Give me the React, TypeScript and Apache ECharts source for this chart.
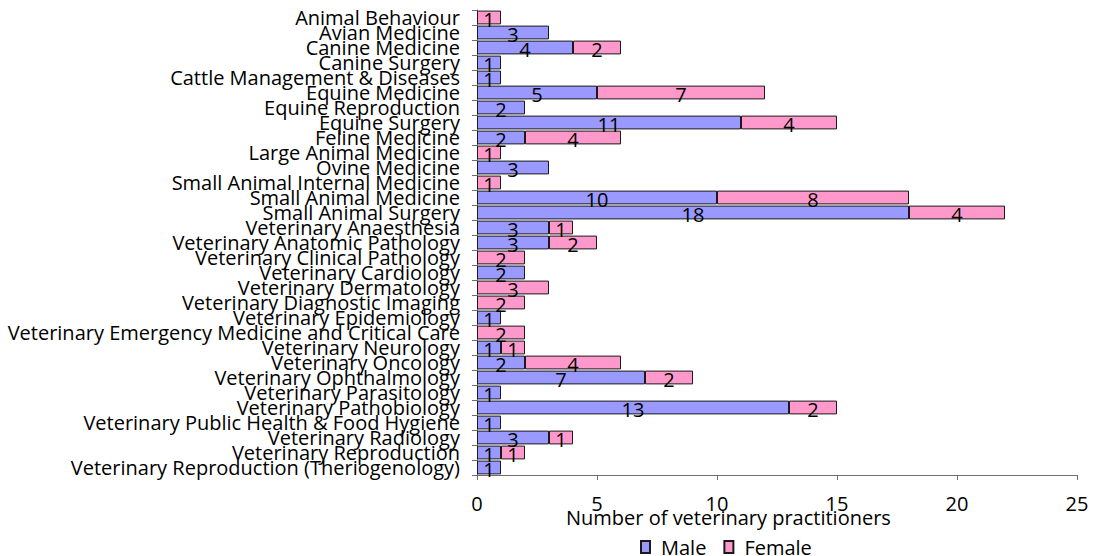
import React, { useEffect, useRef } from "react";
import * as echarts from "echarts";

const categories = [
  "Animal Behaviour",
  "Avian Medicine",
  "Canine Medicine",
  "Canine Surgery",
  "Cattle Management & Diseases",
  "Equine Medicine",
  "Equine Reproduction",
  "Equine Surgery",
  "Feline Medicine",
  "Large Animal Medicine",
  "Ovine Medicine",
  "Small Animal Internal Medicine",
  "Small Animal Medicine",
  "Small Animal Surgery",
  "Veterinary Anaesthesia",
  "Veterinary Anatomic Pathology",
  "Veterinary Clinical Pathology",
  "Veterinary Cardiology",
  "Veterinary Dermatology",
  "Veterinary Diagnostic Imaging",
  "Veterinary Epidemiology",
  "Veterinary Emergency Medicine and Critical Care",
  "Veterinary Neurology",
  "Veterinary Oncology",
  "Veterinary Ophthalmology",
  "Veterinary Parasitology",
  "Veterinary Pathobiology",
  "Veterinary Public Health & Food Hygiene",
  "Veterinary Radiology",
  "Veterinary Reproduction",
  "Veterinary Reproduction (Theriogenology)",
];

const maleCounts = [0, 3, 4, 1, 1, 5, 2, 11, 2, 0, 3, 0, 10, 18, 3, 3, 0, 2, 0, 0, 1, 0, 1, 2, 7, 1, 13, 1, 3, 1, 1];
const femaleCounts = [1, 0, 2, 0, 0, 7, 0, 4, 4, 1, 0, 1, 8, 4, 1, 2, 2, 0, 3, 2, 0, 2, 1, 4, 2, 0, 2, 0, 1, 1, 0];

const xTicks = { min: 0, max: 25, interval: 5 };
const axisTitle = "Number of veterinary practitioners";

const FONT = "'Open Sans', Lato, sans-serif";
const FONT_SIZE = 20;

function App() {
  const ref = useRef<HTMLDivElement>(null);

  useEffect(() => {
    if (!ref.current) return;
    const chart = echarts.init(ref.current, null, { renderer: "svg" });

    const toBars = (vals: number[]) => vals.map((v) => (v > 0 ? v : null));

    const barLabel = {
      show: true,
      position: "inside",
      color: "#000",
      fontFamily: FONT,
      fontSize: FONT_SIZE,
      offset: [0, 2],
    };

    chart.setOption({
      animation: false,
      textStyle: { fontFamily: FONT },
      grid: { left: 477, right: 17, top: 10, bottom: 81, containLabel: false },
      legend: {
        left: 640,
        top: 537,
        padding: 0,
        itemWidth: 9,
        itemHeight: 12,
        itemGap: 17,
        icon: "rect",
        textStyle: {
          fontFamily: FONT,
          fontSize: FONT_SIZE,
          color: "#000",
          padding: [0, 0, 0, 6],
        },
        data: ["Male", "Female"],
      },
      xAxis: {
        type: "value",
        min: xTicks.min,
        max: xTicks.max,
        interval: xTicks.interval,
        splitLine: { show: false },
        axisLine: { show: true, lineStyle: { color: "#6e6e6e", width: 1 } },
        axisTick: { show: true, length: 5, lineStyle: { color: "#6e6e6e" } },
        axisLabel: { color: "#000", fontFamily: FONT, fontSize: FONT_SIZE, margin: 18 },
      },
      yAxis: {
        type: "category",
        inverse: true,
        data: categories,
        axisLine: { show: true, lineStyle: { color: "#6e6e6e", width: 1 } },
        axisTick: { show: true, length: 5, alignWithLabel: false, lineStyle: { color: "#6e6e6e" } },
        axisLabel: { color: "#000", fontFamily: FONT, fontSize: FONT_SIZE, margin: 17, interval: 0 },
      },
      graphic: [
        {
          type: "text",
          left: 566,
          top: 507,
          style: {
            text: axisTitle,
            fontFamily: FONT,
            fontSize: FONT_SIZE,
            fill: "#000",
          },
        },
      ],
      series: [
        {
          name: "Male",
          type: "bar",
          stack: "total",
          barCategoryGap: "8%",
          data: toBars(maleCounts),
          itemStyle: { color: "#9999FF", borderColor: "#1a1a1a", borderWidth: 1 },
          label: barLabel,
        },
        {
          name: "Female",
          type: "bar",
          stack: "total",
          barCategoryGap: "8%",
          data: toBars(femaleCounts),
          itemStyle: { color: "#FF99CC", borderColor: "#1a1a1a", borderWidth: 1 },
          label: barLabel,
        },
      ],
    });

    return () => chart.dispose();
  }, []);

  return (
    <div
      ref={ref}
      style={{ position: "absolute", left: 0, top: 0, width: 1094, height: 556 }}
    />
  );
}

export default App;
